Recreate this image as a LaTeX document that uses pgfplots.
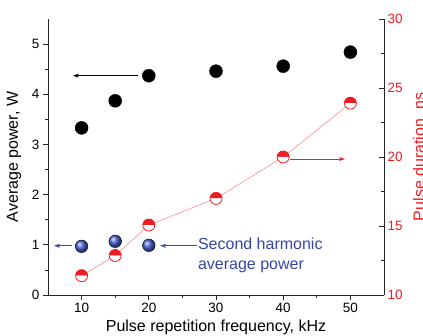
\documentclass[border=0pt]{standalone}
\usepackage{pgfplots}
\pgfplotsset{compat=1.18}
\usepackage{fontspec}
\setmainfont{Liberation Sans}
\usetikzlibrary{arrows.meta}
\definecolor{myred}{RGB}{235,30,35}
\definecolor{mypink}{RGB}{255,140,140}
\definecolor{myblue}{RGB}{50,70,175}
\definecolor{ballblue}{RGB}{75,100,215}
\definecolor{txtblue}{RGB}{55,70,165}
\begin{document}
\begin{tikzpicture}
\pgfplotsset{
  every axis/.append style={
    scale only axis, width=336pt, height=276pt,
    xmin=5, xmax=55,
    /pgf/number format/assume math mode=true,
    tick label style={font=\fontsize{13.5}{16}\selectfont},
    major tick length=5pt, minor tick length=3pt,
    axis line style={line width=0.8pt, black!85},
    every tick/.style={line width=0.8pt, black!85},
  }
}
\begin{axis}[name=ax,
  axis x line*=bottom, axis y line*=left,
  ymin=0, ymax=5.5,
  xtick={10,20,30,40,50}, minor x tick num=1,
  ytick={0,1,2,3,4,5}, minor y tick num=1,
  tick align=outside,
  xlabel={Pulse repetition frequency, kHz},
  ylabel={Average power, W},
  every axis x label/.style={at={(axis description cs:0.5,-0.116)},anchor=center,font=\fontsize{16}{19}\selectfont},
  every axis y label/.style={at={(axis description cs:-0.101,0.5)},anchor=center,rotate=90,font=\fontsize{16}{19}\selectfont},
]
\addplot[only marks, mark=*, mark size=6.5pt, mark options={fill=black, draw=black}] coordinates {(10,3.33)(15,3.87)(20,4.37)(30,4.46)(40,4.56)(50,4.84)};
\addplot[only marks, mark=ball, mark size=6.3pt, mark options={ball color=ballblue}] coordinates {(10,0.97)(15,1.07)(20,0.99)};
\draw[line width=0.8pt, -{Stealth[length=6pt,width=4pt]}] (axis cs:18.4,4.37) -- (axis cs:8.7,4.37);
\draw[myblue, line width=0.8pt, -{Stealth[length=6pt,width=4pt]}] (axis cs:8.6,0.98) -- (axis cs:5.9,0.98);
\draw[myblue, line width=0.8pt, -{Stealth[length=6pt,width=4pt]}] (axis cs:27.2,0.98) -- (axis cs:21.7,0.98);
\node[anchor=west, align=left, text=txtblue, font=\fontsize{16}{20.5}\selectfont, inner sep=0pt] at (axis cs:27.3,0.785) {Second harmonic\\average power};
\end{axis}
\begin{axis}[
  axis y line*=right, hide x axis,
  ymin=10, ymax=30, ytick={10,15,20,25,30}, minor y tick num=1,
  tick align=inside,
  yticklabel style={text=myred},
  ylabel={Pulse duration, ns},
  every axis y label/.style={at={(axis description cs:1.107,0.5)},anchor=center,rotate=90,text=myred,font=\fontsize{16}{19}\selectfont},
]
\addplot[mypink, line width=0.6pt, mark=halfcircle*, mark size=6pt, mark options={draw=myred, fill=myred, line width=0.8pt}] coordinates {(10,11.4)(15,12.86)(20,15.07)(30,17.0)(40,20.0)(50,23.9)};
\draw[myred, line width=0.8pt, -{Stealth[length=6pt,width=4pt]}] (axis cs:41.0,19.85) -- (axis cs:49.2,19.85);
\end{axis}
\pgfresetboundingbox
\path[use as bounding box] ([shift={(-48pt,-41pt)}]ax.south west) rectangle ([shift={(39pt,19pt)}]ax.north east);
\end{tikzpicture}
\end{document}
